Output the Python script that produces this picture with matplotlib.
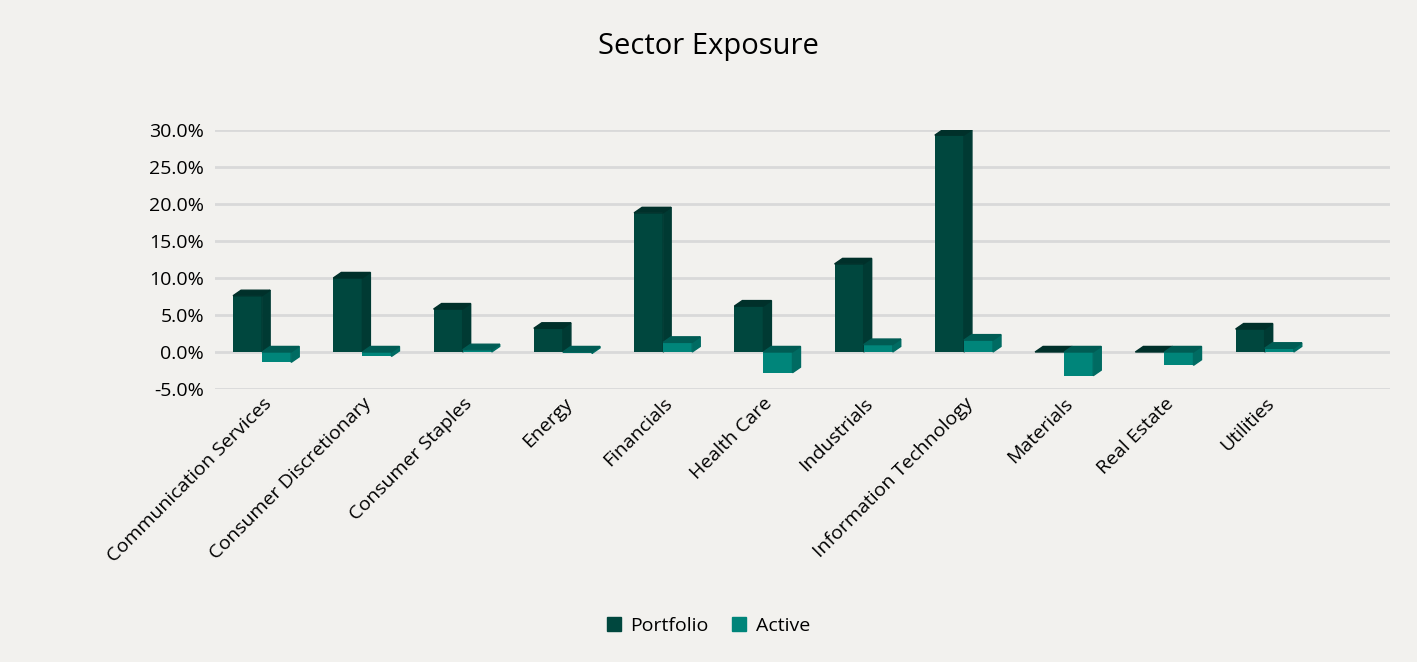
import matplotlib
matplotlib.use("Agg")
import matplotlib.pyplot as plt
from matplotlib.patches import Polygon, Patch
from matplotlib.ticker import FuncFormatter

categories = ["Communication Services", "Consumer Discretionary", "Consumer Staples", "Energy",
              "Financials", "Health Care", "Industrials", "Information Technology",
              "Materials", "Real Estate", "Utilities"]
portfolio = [7.6, 10.0, 5.8, 3.2, 18.8, 6.2, 11.9, 29.3, 0.0, 0.0, 3.1]
active = [-1.4, -0.6, 0.3, -0.2, 1.3, -2.8, 1.0, 1.6, -3.2, -1.8, 0.5]
yticks = [-5, 0, 5, 10, 15, 20, 25, 30]

BG = "#f2f1ee"
C_PORT = ("#00473e", "#003a33", "#00302a")
C_ACT = ("#00857a", "#006b62", "#005c54")

fig = plt.figure(figsize=(14.17, 6.62), dpi=100, facecolor=BG)
ax = fig.add_axes([215/1417, 273/662, 1175/1417, 259/662], facecolor=BG)
ax.set_xlim(-0.47, 11.25)
ax.set_ylim(-5, 30)

W = 0.29
DX, DY = 0.08, 0.75

def bar3d(x0, v, cols):
    front, side, top = cols
    lo, hi = min(0, v), max(0, v)
    ax.bar(x0, v, width=W, align="edge", color=front, zorder=3)
    ax.add_patch(Polygon([(x0+W, lo), (x0+W+DX, lo+DY), (x0+W+DX, hi+DY), (x0+W, hi)],
                         closed=True, color=side, zorder=3))
    ax.add_patch(Polygon([(x0, hi), (x0+DX, hi+DY), (x0+W+DX, hi+DY), (x0+W, hi)],
                         closed=True, color=top, zorder=3))

for i, (p, a) in enumerate(zip(portfolio, active)):
    bar3d(i - W, p, C_PORT)
    bar3d(i, a, C_ACT)

ax.set_yticks(yticks)
ax.yaxis.set_major_formatter(FuncFormatter(lambda v, _: f"{v:.1f}%"))
ax.grid(axis="y", color="#d9d9d9", lw=2, zorder=0)
ax.set_xticks(range(len(categories)))
ax.set_xticklabels(categories, rotation=45, ha="right", rotation_mode="anchor", fontsize=14)
for s in ax.spines.values():
    s.set_visible(False)
ax.tick_params(length=0, labelsize=14, pad=8)
ax.tick_params(axis="x", pad=4)
for t in ax.get_xticklabels() + ax.get_yticklabels():
    t.set_fontfamily("Open Sans")

fig.text(0.5, 0.93, "Sector Exposure", ha="center", va="center", fontsize=21, family="Open Sans")
fig.legend(handles=[Patch(color=C_PORT[0], label="Portfolio"), Patch(color=C_ACT[0], label="Active")],
           loc="center", bbox_to_anchor=(0.5, 0.055), ncol=2, frameon=False,
           prop={"family": "Open Sans", "size": 14}, handlelength=0.7, handleheight=0.7,
           columnspacing=1.2, handletextpad=0.5)
fig.savefig("out.png", dpi=100, facecolor=BG)
